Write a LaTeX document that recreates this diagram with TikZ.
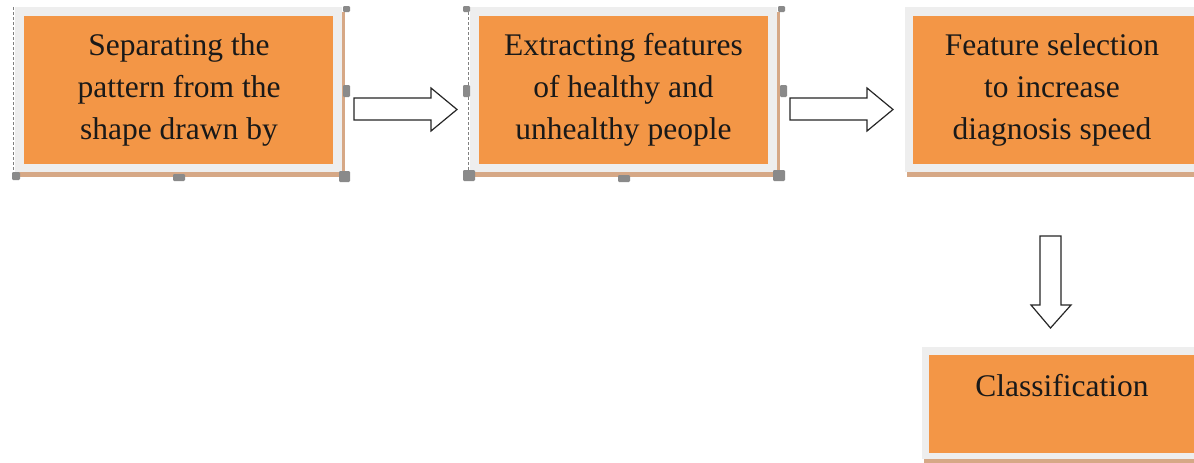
\documentclass[tikz,border=0pt]{standalone}
\usepackage{fontspec}
\setmainfont{Liberation Serif}
\definecolor{boxorange}{RGB}{243,150,70}
\definecolor{framegray}{RGB}{238,238,238}
\definecolor{shadowbeige}{RGB}{214,168,134}
\definecolor{handlegray}{RGB}{138,138,138}
\begin{document}
\begin{tikzpicture}[x=1pt,y=-1pt,
  boxtext/.style={font=\fontsize{31.5}{42}\selectfont,align=center,inner sep=0pt,text=black!90},
  blockarrow/.style={draw=black!85,line width=1.2pt,fill=white,line join=miter},
  handle/.style={fill=handlegray,draw=none,rounded corners=1.2pt},
  selline/.style={draw=gray,line width=0.9pt,dash pattern=on 3pt off 2pt}]
\useasboundingbox (0,0) rectangle (1194,463);
\fill[white] (0,0) rectangle (1194,463);

% Box 1
\fill[shadowbeige] (18,12) rectangle (345,177);
\fill[framegray] (15,7) rectangle (342,172);
\fill[boxorange] (24,16) rectangle (333,164);
\draw[selline] (13,7) -- (13,176);
\node[boxtext] (b1) at (179,90) {Separating the\\pattern from the\\shape drawn by};

% Box 2
\fill[shadowbeige] (473,12) rectangle (780,177);
\fill[framegray] (470,7) rectangle (777,172);
\fill[boxorange] (479,16) rectangle (768,164);
\draw[selline] (468,7) -- (468,176);
\node[boxtext] (b2) at (623.5,90) {Extracting features\\of healthy and\\unhealthy people};

% Box 3
\fill[shadowbeige] (907,12) rectangle (1194,177);
\fill[framegray] (905,7) rectangle (1194,172);
\fill[boxorange] (913,16) rectangle (1194,164);
\node[boxtext] (b3) at (1052,90) {Feature selection\\to increase\\diagnosis speed};

% Box 4
\fill[shadowbeige] (924,352) rectangle (1194,463);
\fill[framegray] (922,347) rectangle (1194,459);
\fill[boxorange] (929,355) rectangle (1194,453);
\node[boxtext,anchor=base] (b4) at (1062,396) {Classification};

% Selection handles box 1
\fill[handle] (343,6) rectangle (350,12);
\fill[handle] (343,85) rectangle (350,97);
\fill[handle] (12,172) rectangle (20,180);
\fill[handle] (173,174) rectangle (185,181);
\fill[handle] (339,171) rectangle (350,182);
% Selection handles box 2
\fill[handle] (463,6) rectangle (470,12);
\fill[handle] (778,6) rectangle (785,12);
\fill[handle] (463,85) rectangle (470,97);
\fill[handle] (780,85) rectangle (787,97);
\fill[handle] (463,170) rectangle (475,181);
\fill[handle] (618,175) rectangle (630,182);
\fill[handle] (773,170) rectangle (785,181);

% Block arrows
\draw[blockarrow] (354,98) -- (431,98) -- (431,88) -- (457,109.5) -- (431,131) -- (431,120) -- (354,120) -- cycle;
\draw[blockarrow] (790,98) -- (867,98) -- (867,88) -- (893,109.5) -- (867,131) -- (867,120) -- (790,120) -- cycle;
\draw[blockarrow] (1040,236) -- (1061,236) -- (1061,305) -- (1071,305) -- (1050.5,328) -- (1031,305) -- (1040,305) -- cycle;
\end{tikzpicture}
\end{document}
